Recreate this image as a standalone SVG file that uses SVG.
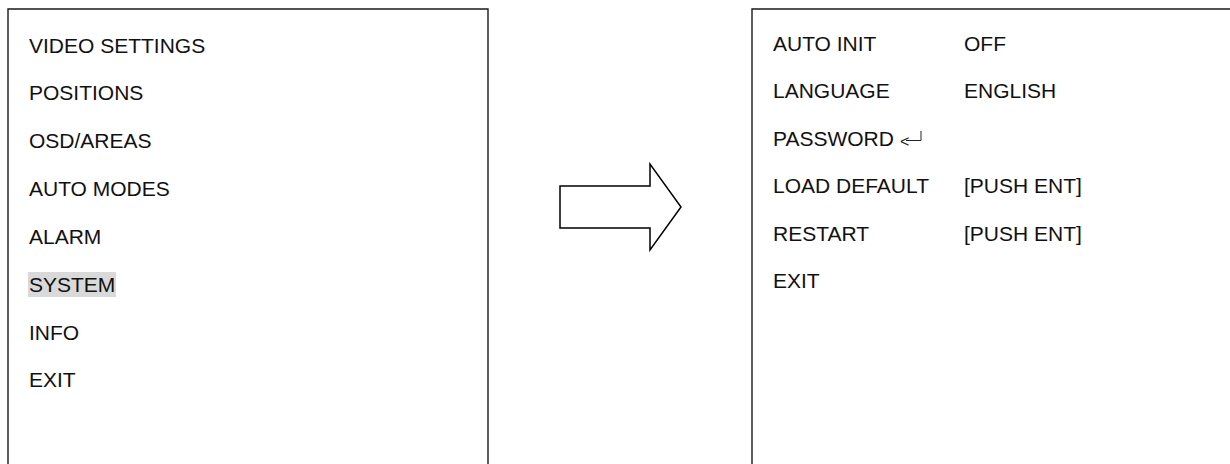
<svg xmlns="http://www.w3.org/2000/svg" width="1230" height="464" viewBox="0 0 1230 464">
<style>
.box{fill:none;stroke:#1a1a1a;stroke-width:1.4}
.t{font-family:"Liberation Sans",Arial,sans-serif;font-size:21px;fill:#111}
.arrow{fill:#fff;stroke:#000;stroke-width:1.5;stroke-linejoin:miter}
</style>
<rect width="1230" height="464" fill="#fff"/>
<g id="menu-main">
<path class="box" d="M8,470 V9 H488 V470"/>
<rect x="28" y="272" width="88" height="25" fill="#d9d9d9"/>
<text class="t" x="29" y="52.5">VIDEO SETTINGS</text>
<text class="t" x="29" y="100.3">POSITIONS</text>
<text class="t" x="29" y="148.2">OSD/AREAS</text>
<text class="t" x="29" y="196">AUTO MODES</text>
<text class="t" x="29" y="243.9">ALARM</text>
<text class="t" x="29" y="291.7">SYSTEM</text>
<text class="t" x="29" y="339.5">INFO</text>
<text class="t" x="29" y="387.4">EXIT</text>
</g>
<g id="connectors">
<polygon class="arrow" points="560,186 650,186 650,164 681,207 650,250 650,228 560,228"/>
</g>
<g id="menu-system">
<path class="box" d="M752,470 V9 H1240"/>
<text class="t" x="773" y="51">AUTO INIT</text>
<text class="t" x="964" y="51">OFF</text>
<text class="t" x="773" y="98.4">LANGUAGE</text>
<text class="t" x="964" y="98.4">ENGLISH</text>
<text class="t" x="773" y="145.9">PASSWORD</text>
<text x="900" y="147" style="font-family:'Liberation Sans',Arial,sans-serif;font-size:16px;fill:#222">&lt;</text>
<path d="M906,140.5 H921 V131" fill="none" stroke="#222" stroke-width="1"/>
<text class="t" x="773" y="193.3">LOAD DEFAULT</text>
<text class="t" x="964" y="193.3">[PUSH ENT]</text>
<text class="t" x="773" y="240.7">RESTART</text>
<text class="t" x="964" y="240.7">[PUSH ENT]</text>
<text class="t" x="773" y="288">EXIT</text>
</g>
</svg>
